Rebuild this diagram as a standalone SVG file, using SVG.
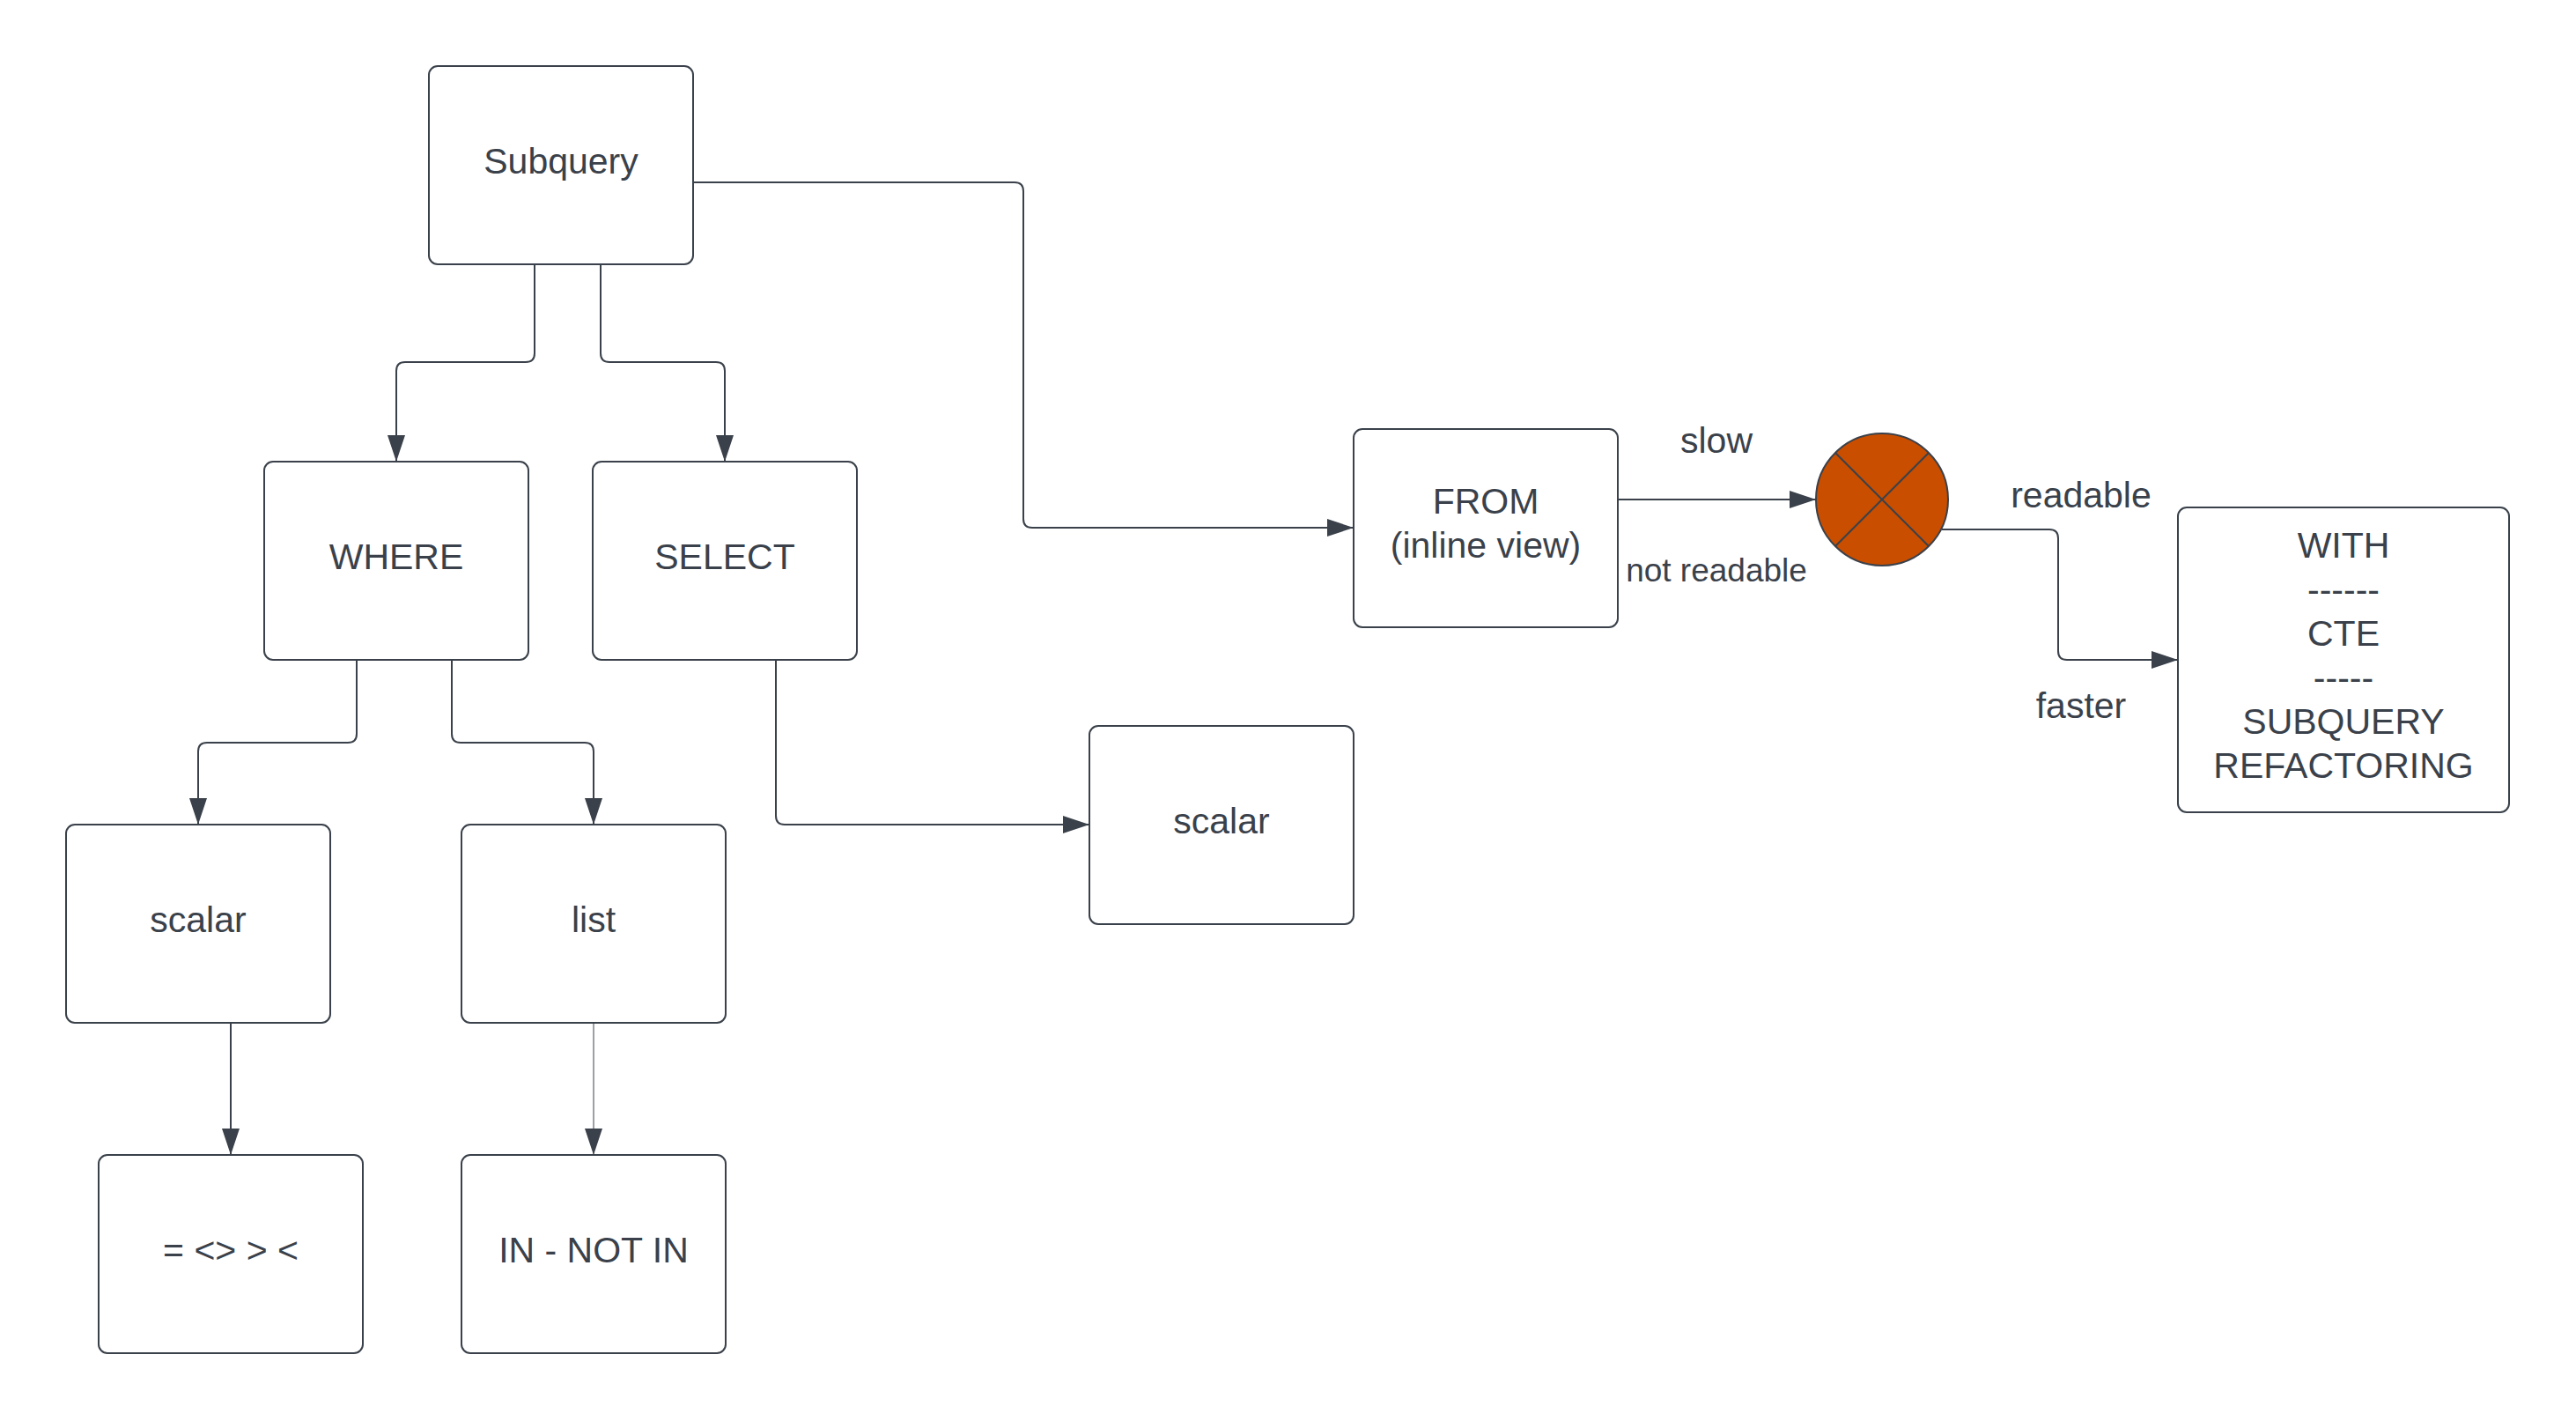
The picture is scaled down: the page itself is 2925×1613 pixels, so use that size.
<svg xmlns="http://www.w3.org/2000/svg" width="2925" height="1613" viewBox="0 0 2925 1613">
  <style>
    .box { fill: #ffffff; stroke: #3a414a; stroke-width: 2; }
    .lbl { font-family: "Liberation Sans", Arial, sans-serif; font-size: 41px; fill: #3a414a; text-anchor: middle; }
    .small { font-size: 37px; }
    .edge { fill: none; stroke: #3a414a; stroke-width: 2; }
    .thin { stroke-width: 1; }
  </style>
  <defs>
    <marker id="arrow" markerUnits="userSpaceOnUse" markerWidth="30" markerHeight="20" refX="30" refY="10" orient="auto">
      <path d="M0,0 L30,10 L0,20 z" fill="#3a414a"/>
    </marker>
  </defs>
  <rect width="2925" height="1613" fill="#ffffff"/>

  <g id="connectors">
    <path class="edge" marker-end="url(#arrow)" d="M607,300 V401 Q607,411 597,411 H460 Q450,411 450,421 V524"/>
    <path class="edge" marker-end="url(#arrow)" d="M682,300 V401 Q682,411 692,411 H813 Q823,411 823,421 V524"/>
    <path class="edge" marker-end="url(#arrow)" d="M787,207 H1152 Q1162,207 1162,217 V589 Q1162,599 1172,599 H1537"/>
    <path class="edge" marker-end="url(#arrow)" d="M405,749 V833 Q405,843 395,843 H235 Q225,843 225,853 V936"/>
    <path class="edge" marker-end="url(#arrow)" d="M513,749 V833 Q513,843 523,843 H664 Q674,843 674,853 V936"/>
    <path class="edge" marker-end="url(#arrow)" d="M881,749 V926 Q881,936 891,936 H1237"/>
    <path class="edge" marker-end="url(#arrow)" d="M262,1161 V1311"/>
    <path class="edge thin" marker-end="url(#arrow)" d="M674,1161 V1311"/>
    <path class="edge" marker-end="url(#arrow)" d="M1837,567 H2062"/>
    <path class="edge" marker-end="url(#arrow)" d="M2205,601 H2327 Q2337,601 2337,611 V739 Q2337,749 2347,749 H2473"/>
    <text class="lbl" x="1949" y="514">slow</text>
    <text class="lbl small" x="1949" y="660">not readable</text>
    <text class="lbl" x="2363" y="576">readable</text>
    <text class="lbl" x="2363" y="815">faster</text>
  </g>

  <g id="node-subquery">
    <rect class="box" x="487" y="75" width="300" height="225" rx="10"/>
    <text class="lbl" x="637" y="197">Subquery</text>
  </g>
  <g id="node-where">
    <rect class="box" x="300" y="524" width="300" height="225" rx="10"/>
    <text class="lbl" x="450" y="646">WHERE</text>
  </g>
  <g id="node-select">
    <rect class="box" x="673" y="524" width="300" height="225" rx="10"/>
    <text class="lbl" x="823" y="646">SELECT</text>
  </g>
  <g id="node-scalar-where">
    <rect class="box" x="75" y="936" width="300" height="225" rx="10"/>
    <text class="lbl" x="225" y="1058">scalar</text>
  </g>
  <g id="node-list">
    <rect class="box" x="524" y="936" width="300" height="225" rx="10"/>
    <text class="lbl" x="674" y="1058">list</text>
  </g>
  <g id="node-operators">
    <rect class="box" x="112" y="1311" width="300" height="225" rx="10"/>
    <text class="lbl" x="262" y="1433">= &lt;&gt; &gt; &lt;</text>
  </g>
  <g id="node-in">
    <rect class="box" x="524" y="1311" width="300" height="225" rx="10"/>
    <text class="lbl" x="674" y="1433">IN - NOT IN</text>
  </g>
  <g id="node-scalar-select">
    <rect class="box" x="1237" y="824" width="300" height="225" rx="10"/>
    <text class="lbl" x="1387" y="946">scalar</text>
  </g>
  <g id="node-from">
    <rect class="box" x="1537" y="487" width="300" height="225" rx="10"/>
    <text class="lbl" x="1687" y="583">FROM</text>
    <text class="lbl" x="1687" y="633">(inline view)</text>
  </g>
  <g id="node-decision">
    <circle cx="2137" cy="567" r="75" fill="#c94e00" stroke="#3a414a" stroke-width="2"/>
    <path d="M2084,514 L2190,620 M2190,514 L2084,620" stroke="#3a414a" stroke-width="2" fill="none"/>
  </g>
  <g id="node-with">
    <rect class="box" x="2473" y="576" width="376" height="346" rx="10"/>
    <text class="lbl" x="2661" y="633">WITH</text>
    <text class="lbl" x="2661" y="683">------</text>
    <text class="lbl" x="2661" y="733">CTE</text>
    <text class="lbl" x="2661" y="783">-----</text>
    <text class="lbl" x="2661" y="833">SUBQUERY</text>
    <text class="lbl" x="2661" y="883">REFACTORING</text>
  </g>
</svg>
